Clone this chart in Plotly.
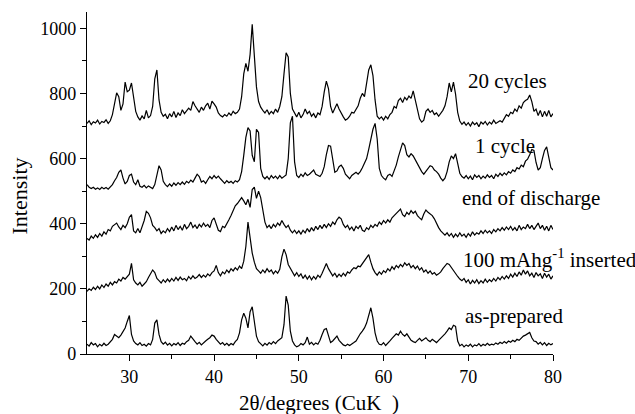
import plotly.graph_objects as go

two_theta = [25 + 0.25 * i for i in range(221)]

as_prepared = [
30,24,35,28,32,22,30,25,33,26,30,38,45,60,55,50,58,70,80,100,118,60,40,32,28,35,26,30,24,32,28,45,
95,105,60,38,30,36,27,33,25,32,28,35,26,33,30,38,42,55,45,38,30,36,28,35,40,45,50,58,55,45,38,30,
35,27,33,26,32,28,38,45,65,105,125,110,80,130,145,100,55,38,30,25,33,27,35,30,38,32,40,45,50,90,
178,150,70,40,28,22,25,32,28,35,52,30,36,28,34,30,42,60,75,78,55,35,40,48,55,42,35,28,25,30,26,32,
35,40,52,62,70,80,95,120,142,110,65,40,30,28,35,26,32,40,48,55,62,58,70,60,55,62,50,42,38,35,42,48,
40,45,50,42,38,45,40,35,42,48,55,62,70,80,75,88,85,40,25,30,22,28,24,30,22,28,25,32,24,30,26,33,
27,30,28,34,30,36,32,38,33,40,36,42,38,45,42,50,55,58,62,66,50,40,38,30,36,28,35,26,33,28,32]

inserted_100 = [
192,200,195,205,198,208,200,212,204,215,208,220,212,222,218,230,224,235,230,238,245,278,228,218,
212,220,208,215,222,235,245,258,250,232,225,218,228,220,230,222,232,224,235,226,236,228,232,225,
238,230,240,232,236,244,235,242,236,246,240,250,255,272,250,240,252,246,258,250,262,255,265,258,
270,262,285,330,405,358,310,282,262,255,248,258,250,262,252,258,246,255,248,260,298,322,305,275,
262,248,240,250,238,246,232,242,230,240,228,238,230,242,235,248,265,278,262,250,240,248,236,245,
238,248,240,252,248,258,265,262,270,268,278,285,295,305,282,262,250,242,252,245,256,250,262,255,
268,260,272,265,275,268,280,272,278,265,272,262,270,258,265,252,258,248,255,245,250,242,246,252,
262,272,278,275,265,255,248,238,230,225,232,220,228,215,226,218,228,216,225,218,230,220,228,222,
232,224,235,228,238,230,240,232,245,236,248,238,252,242,258,245,255,240,248,235,250,240,246,232,
248,236,245,230,240]

end_of_discharge = [
355,350,362,355,366,358,370,362,375,368,382,378,392,398,402,390,382,395,388,400,420,428,378,372,
385,372,388,410,438,432,418,395,388,378,385,370,378,372,385,376,390,378,395,382,392,380,398,385,
392,405,388,396,385,398,390,402,392,398,388,410,418,400,380,376,392,388,398,412,425,440,455,462,
472,480,470,458,475,450,505,512,478,500,480,440,405,388,395,385,398,390,402,395,410,398,388,395,
380,372,380,370,378,368,380,372,385,375,388,378,392,382,395,385,398,388,400,392,405,398,412,420,
415,398,388,395,382,390,378,392,385,395,380,376,388,382,395,388,398,392,405,398,410,402,412,405,
418,425,432,438,445,428,422,435,428,440,432,438,425,418,412,430,442,435,430,425,415,400,388,378,
370,365,372,362,370,358,368,360,372,362,368,358,370,362,375,365,372,368,378,370,380,372,378,370,
382,375,385,378,388,380,390,382,392,380,388,378,395,382,390,385,398,385,395,382,392,402,385,395,
380,392,378,395,382]

one_cycle = [
520,512,508,512,506,510,505,512,507,511,506,514,520,532,542,558,565,540,522,530,548,552,528,520,
535,515,512,518,510,516,512,508,520,545,578,565,530,520,514,522,515,525,518,526,520,528,521,530,
525,534,528,540,552,545,528,532,524,535,545,538,548,540,546,538,530,524,532,526,530,524,532,528,
535,560,610,665,695,685,610,590,690,680,570,545,538,545,536,548,540,546,538,548,540,545,550,600,
710,730,590,548,542,552,545,556,548,552,560,565,552,548,545,555,575,612,640,638,590,558,562,575,
580,570,552,545,538,548,552,558,552,560,572,585,600,628,660,690,708,660,570,548,540,535,548,552,
545,560,580,605,625,648,640,612,605,615,608,595,582,572,560,552,560,570,578,575,565,560,552,540,
532,540,560,590,608,600,615,585,555,545,540,548,538,546,535,550,542,548,538,546,540,550,542,548,
538,552,545,555,548,556,550,560,555,565,560,572,568,580,575,592,598,612,628,625,588,565,572,600,
625,636,600,572,565]

twenty_cycles = [
708,716,704,713,709,718,706,714,711,719,708,716,735,775,802,790,748,768,835,805,810,832,780,745,
728,718,731,722,748,725,732,760,845,872,780,742,730,736,722,738,728,745,726,740,732,750,738,745,
755,748,775,762,750,742,758,748,762,770,752,776,768,758,740,732,728,735,730,740,733,745,738,742,
752,790,860,892,868,920,1012,920,820,775,758,748,740,750,736,745,738,752,742,760,790,860,925,912,
800,752,738,728,742,725,735,752,738,745,730,738,725,740,735,760,805,838,815,760,740,752,768,752,
738,728,718,722,730,742,740,752,762,785,800,790,830,872,888,855,780,730,722,728,718,730,722,735,
742,760,755,778,785,772,788,780,792,785,808,780,752,722,712,718,745,752,742,748,735,740,730,738,
748,762,790,832,805,835,798,742,715,705,712,702,710,700,712,704,710,698,712,706,714,703,712,706,
718,708,712,716,712,722,735,730,742,738,752,745,762,755,772,778,782,795,775,745,752,732,748,728,
745,730,748,728,738]

series = [as_prepared, inserted_100, end_of_discharge, one_cycle, twenty_cycles]

labels = ["as-prepared", "100 mAhg<sup>-1</sup> inserted", "end of discharge", "1 cycle", "20 cycles"]
label_x = [69.39, 69.2, 69.04, 70.57, 69.75]
label_y = [117, 292, 478, 639, 839]

x_title = "2θ/degrees (CuK\u2002)"
y_title = "Intensity"

FF = "Times New Roman"

fig = go.Figure()
for ys in series:
    fig.add_trace(go.Scatter(x=two_theta, y=ys, mode="lines",
                             line=dict(color="black", width=1.2), showlegend=False,
                             hoverinfo="skip"))

for t, lx, ly in zip(labels, label_x, label_y):
    fig.add_annotation(x=lx, y=ly, text=t, xref="x", yref="y", showarrow=False,
                       xanchor="left", yanchor="middle",
                       font=dict(family=FF, size=21, color="black"))

W, H = 635, 414
ML, MR, MT, MB = 87, 82, 12, 60
pw, ph = W - ML - MR, H - MT - MB

fig.add_annotation(x=(319 - ML) / pw, y=(H - MB - 403) / ph, xref="paper", yref="paper",
                   xanchor="center", yanchor="middle",
                   text=x_title, showarrow=False,
                   font=dict(family=FF, size=21, color="black"))
fig.add_annotation(x=(18.5 - ML) / pw, y=(H - MB - 196) / ph, xref="paper", yref="paper",
                   xanchor="center", yanchor="middle",
                   text=y_title, showarrow=False, textangle=-90,
                   font=dict(family=FF, size=22, color="black"))

axis_common = dict(showline=True, linecolor="black", linewidth=1.3, ticks="outside",
                   ticklen=6, tickwidth=1.3, tickcolor="black", showgrid=False,
                   zeroline=False, mirror=False, automargin=False,
                   tickfont=dict(family=FF, size=18, color="black"))

fig.update_xaxes(range=[25, 80], tickvals=[30, 40, 50, 60, 70, 80],
                 minor=dict(tickvals=[35, 45, 55, 65, 75], ticklen=4, tickwidth=1.3,
                            tickcolor="black", ticks="outside"),
                 **axis_common)
fig.update_yaxes(range=[0, 1050], tickvals=[0, 200, 400, 600, 800, 1000],
                 minor=dict(tickvals=[100, 300, 500, 700, 900], ticklen=4, tickwidth=1.3,
                            tickcolor="black", ticks="outside"),
                 **axis_common)

fig.update_layout(width=W, height=H, margin=dict(l=ML, r=MR, t=MT, b=MB),
                  font=dict(family=FF, color="black"),
                  modebar=dict(bgcolor="rgba(0,0,0,0)", color="rgba(0,0,0,0)",
                               activecolor="rgba(0,0,0,0)"),
                  plot_bgcolor="white", paper_bgcolor="white")

fig.write_html("out.html", config={"displaylogo": False},
               post_script="document.body.style.margin='0';")
